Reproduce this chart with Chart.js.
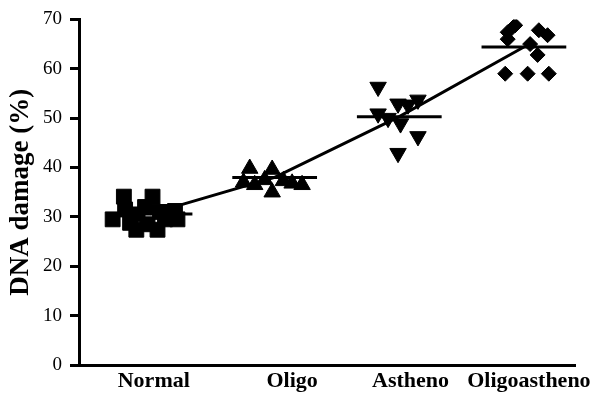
<!DOCTYPE html>
<html><head><meta charset="utf-8">
<script src="https://cdn.jsdelivr.net/npm/chart.js@4"></script>
<style>html,body{margin:0;padding:0;background:#fff}#wrap{width:598px;height:394px}</style>
</head><body><div id="wrap"><canvas id="c" width="598" height="394"></canvas></div>
<script>
// ---- data ----
const categories = ['Normal', 'Oligo', 'Astheno', 'Oligoastheno'];
const yTicks = [0, 10, 20, 30, 40, 50, 60, 70];

const normalValues = [34.1, 34.1, 29.5, 31.5, 30.5, 32.0, 31.0, 31.2, 29.5, 28.8, 28.5, 27.4, 27.4, 29.5];
const normalJitter = [-0.21, 0.02, -0.30, -0.20, -0.10, -0.04, 0.08, 0.20, 0.22, -0.16, -0.02, -0.11, 0.06, 0.12];

const oligoValues = [39.8, 39.6, 37.0, 36.5, 37.5, 35.0, 37.3, 36.8, 36.5];
const oligoJitter = [-0.20, -0.02, -0.25, -0.16, -0.08, -0.02, 0.07, 0.14, 0.22];

const asthenoValues = [56.3, 52.9, 53.7, 52.7, 50.9, 48.9, 46.3, 42.9, 50.0];
const asthenoJitter = [-0.17, -0.01, 0.15, 0.07, -0.17, 0.01, 0.15, -0.01, -0.09];

const oligoasthenoValues = [68.8, 67.4, 66.0, 67.8, 66.8, 65.0, 62.8, 59.0, 59.0, 59.0];
const oligoasthenoJitter = [-0.07, -0.13, -0.13, 0.12, 0.19, 0.05, 0.11, -0.15, 0.03, 0.20];

const groupMeans = [30.6, 38.0, 50.3, 64.4];

// ---- build datasets ----
const groups = [
  {values: normalValues, jitter: normalJitter, style: 'rect', radius: 10.5, rotation: 0},
  {values: oligoValues, jitter: oligoJitter, style: 'triangle', radius: 9.5, rotation: 0},
  {values: asthenoValues, jitter: asthenoJitter, style: 'triangle', radius: 9.5, rotation: 180},
  {values: oligoasthenoValues, jitter: oligoasthenoJitter, style: 'rectRot', radius: 7.5, rotation: 0}
];
const MEAN_HALF = 0.34;
const LABEL_AT = [1.03, 2.14, 3.09, 4.04]; // where the original figure places its category labels (axis units)
const datasets = [];
groups.forEach((g, i) => {
  datasets.push({
    label: categories[i],
    data: g.values.map((v, k) => ({x: i + 1 + g.jitter[k], y: v})),
    pointStyle: g.style,
    pointRadius: g.radius,
    pointRotation: g.rotation,
    backgroundColor: '#000',
    borderColor: '#000',
    borderWidth: 1,
    showLine: false
  });
  datasets.push({
    label: categories[i] + ' mean',
    data: [{x: i + 1 - MEAN_HALF, y: groupMeans[i]}, {x: i + 1 + MEAN_HALF, y: groupMeans[i]}],
    showLine: true, borderColor: '#000', borderWidth: 3, pointRadius: 0
  });
});
datasets.push({
  label: 'trend',
  data: groupMeans.map((m, i) => ({x: i + 1, y: m})),
  showLine: true, borderColor: '#000', borderWidth: 3, pointRadius: 0
});

new Chart(document.getElementById('c'), {
  type: 'scatter',
  data: {datasets},
  options: {
    responsive: false,
    animation: false,
    devicePixelRatio: 1,
    layout: {padding: {left: 0, right: 23, top: 17, bottom: 0}},
    plugins: {legend: {display: false}, tooltip: {enabled: false}},
    scales: {
      x: {
        type: 'linear',
        min: 0.43, max: 4.41,
        afterFit: s => { s.height = 29; },
        afterBuildTicks: s => { s.ticks = categories.map((c, i) => ({value: LABEL_AT[i]})); },
        ticks: {
          callback: (v, idx) => categories[idx],
          font: {family: 'Liberation Serif', size: 22, weight: 'bold'},
          color: '#000', padding: 3, autoSkip: false, maxRotation: 0
        },
        grid: {display: false, drawTicks: false},
        border: {display: true, width: 3, color: '#000'}
      },
      y: {
        type: 'linear',
        min: 0, max: 70,
        afterFit: s => { s.width = 79; },
        afterBuildTicks: s => { s.ticks = yTicks.map(v => ({value: v})); },
        ticks: {
          font: {family: 'Liberation Serif', size: 19},
          color: '#000', padding: 8
        },
        grid: {drawOnChartArea: false, drawTicks: true, tickLength: 9, lineWidth: 3, color: '#000'},
        border: {display: true, width: 3, color: '#000'},
        title: {
          display: true, text: 'DNA damage (%)',
          font: {family: 'Liberation Serif', size: 27, weight: 'bold'},
          color: '#000', padding: {top: 5, bottom: 0}
        }
      }
    }
  }
});
</script>
</body></html>
